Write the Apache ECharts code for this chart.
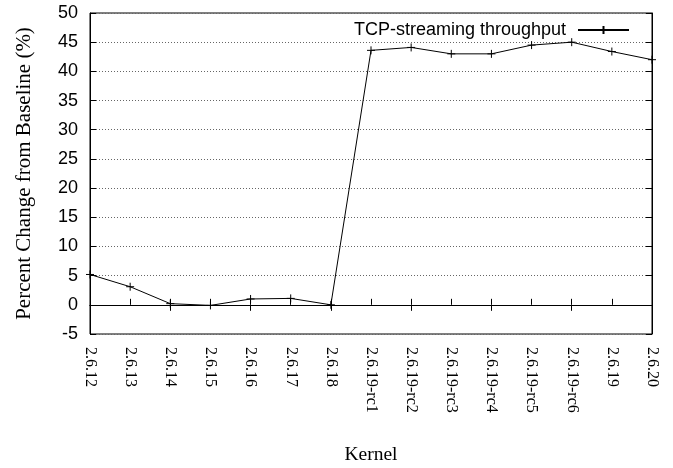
<!DOCTYPE html>
<html>
<head>
<meta charset="utf-8">
<script src="https://cdn.jsdelivr.net/npm/echarts@6/dist/echarts.min.js"></script>
<style>html,body{margin:0;padding:0;background:#fff}#c{width:673px;height:468px}</style>
</head>
<body>
<div id="c"></div>
<script>
const categories = ['2.6.12','2.6.13','2.6.14','2.6.15','2.6.16','2.6.17','2.6.18','2.6.19-rc1','2.6.19-rc2','2.6.19-rc3','2.6.19-rc4','2.6.19-rc5','2.6.19-rc6','2.6.19','2.6.20'];
const throughput = [5.2, 3.1, 0.2, -0.1, 1.0, 1.1, 0.0, 43.6, 44.1, 43.0, 43.0, 44.5, 45.0, 43.4, 42.0];
const seriesName = 'TCP-streaming throughput';
const yMin = -5, yMax = 50, yStep = 5;

const chart = echarts.init(document.getElementById('c'), null, {renderer: 'canvas'});
const plus = 'path://M0,5L10,5M5,0L5,10';
chart.setOption({
  animation: false,
  backgroundColor: '#fff',
  grid: {left: 90, right: 21, top: 13, bottom: 134, containLabel: false, outerBoundsMode: 'none',
    show: true, borderColor: '#000', borderWidth: 1, backgroundColor: 'transparent'},
  legend: {
    show: true, right: 38, top: 16, align: 'right', padding: 5,
    itemWidth: 51, itemHeight: 10, itemGap: 0,
    textStyle: {fontFamily: 'Liberation Sans, Arial, sans-serif', fontSize: 18, color: '#000', padding: [0, 7, 0, 0]},
    data: [{name: seriesName}]
  },
  xAxis: [{
    type: 'category', data: categories, boundaryGap: false, position: 'bottom',
    name: 'Kernel', nameLocation: 'middle', nameGap: 111,
    nameTextStyle: {fontFamily: 'Liberation Serif, Times New Roman, serif', fontSize: 19.5, color: '#000'},
    axisLine: {show: true, lineStyle: {color: '#000'}},
    axisTick: {show: true, inside: true, length: 6, alignWithLabel: true, lineStyle: {color: '#000'}},
    axisLabel: {rotate: -90, margin: 13, fontFamily: 'Liberation Serif, Times New Roman, serif', fontSize: 16, color: '#000', interval: 0},
    splitLine: {show: false}
  }, {
    type: 'category', data: categories, boundaryGap: false, position: 'top',
    axisLine: {show: true, lineStyle: {color: '#000'}},
    axisTick: {show: true, inside: true, length: 6, lineStyle: {color: '#000'}},
    axisLabel: {show: false}, splitLine: {show: false}
  }],
  yAxis: [{
    type: 'value', min: yMin, max: yMax, interval: yStep, position: 'left',
    name: 'Percent Change from Baseline (%)', nameLocation: 'middle', nameGap: 55,
    nameTextStyle: {fontFamily: 'Liberation Serif, Times New Roman, serif', fontSize: 21, color: '#000'},
    axisLine: {show: true, lineStyle: {color: '#000'}},
    axisTick: {show: true, inside: true, length: 6, lineStyle: {color: '#000'}},
    axisLabel: {margin: 12, fontFamily: 'Liberation Sans, Arial, sans-serif', fontSize: 18, color: '#000'},
    splitLine: {show: true, lineStyle: {color: '#666', type: [1, 2], width: 1}}
  }, {
    type: 'value', min: yMin, max: yMax, interval: yStep, position: 'right',
    axisLine: {show: true, lineStyle: {color: '#000'}},
    axisTick: {show: true, inside: true, length: 6, lineStyle: {color: '#000'}},
    axisLabel: {show: false}, splitLine: {show: false}
  }],
  series: [{
    name: seriesName, type: 'line', data: throughput, xAxisIndex: 0, yAxisIndex: 0,
    symbol: plus, symbolSize: 8,
    lineStyle: {color: '#000', width: 1},
    itemStyle: {color: 'transparent', borderColor: '#000', borderWidth: 1},
    markLine: {silent: true, symbol: 'none', label: {show: false},
      lineStyle: {color: '#000', type: 'solid', width: 1}, data: [{yAxis: 0}]}
  }]
});
</script>
</body>
</html>
